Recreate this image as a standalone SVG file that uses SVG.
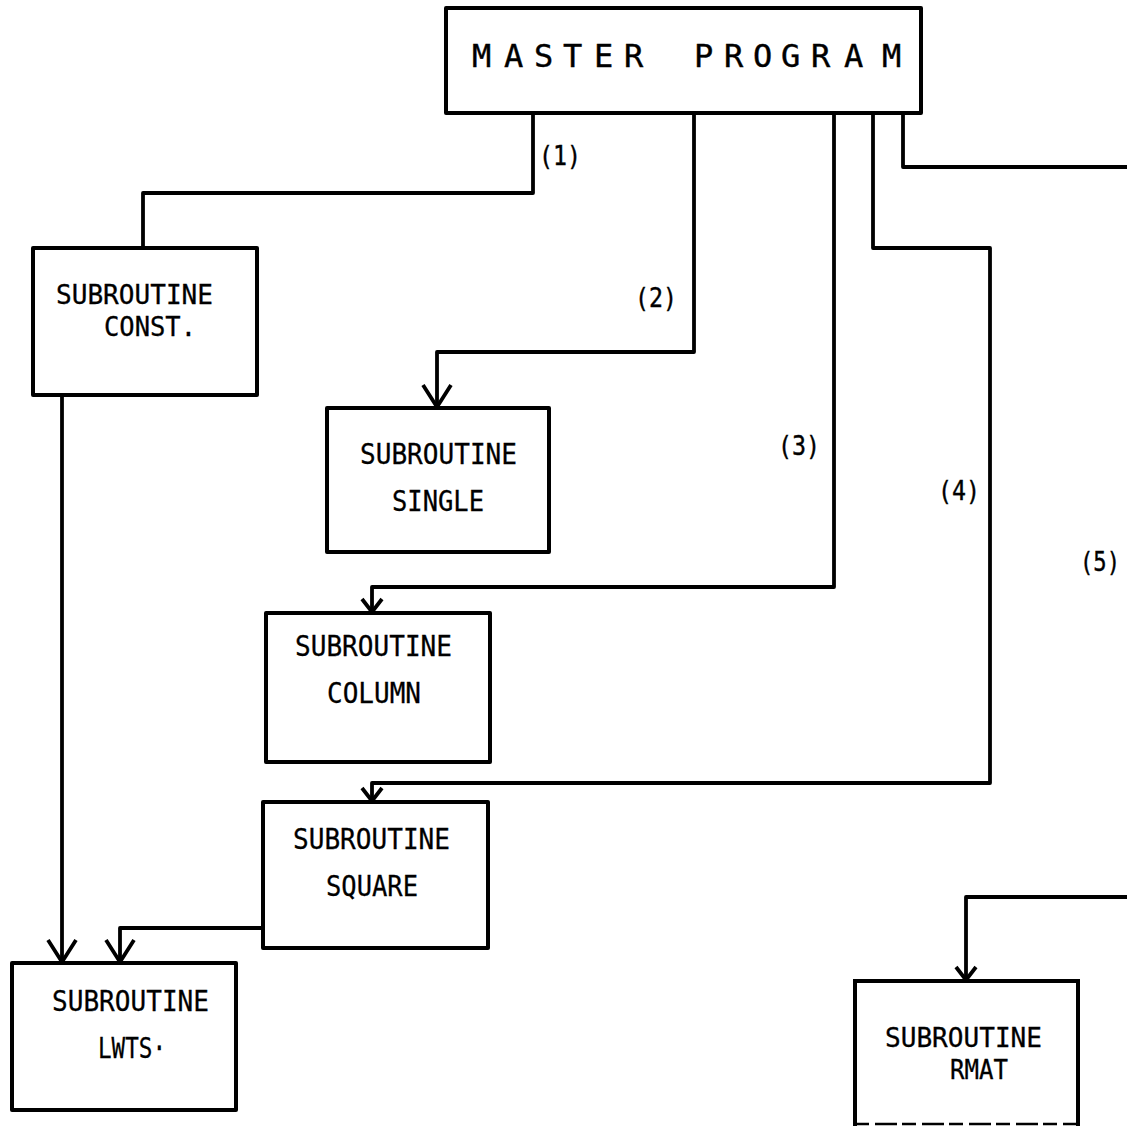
<svg xmlns="http://www.w3.org/2000/svg" width="1127" height="1126" viewBox="0 0 1127 1126">
<defs>
<style>
.box{fill:#fff;stroke:#000;stroke-width:4;stroke-linejoin:round}
.open{fill:none;stroke:#000;stroke-width:4}
.con{fill:none;stroke:#000;stroke-width:3.8;stroke-linejoin:round}
.t{font-family:"DejaVu Sans Mono","Liberation Mono",monospace;font-size:29px;fill:#000;stroke:#000;stroke-width:0.3}
.t2{font-family:"DejaVu Sans Mono","Liberation Mono",monospace;font-size:26px;fill:#000;stroke:#000;stroke-width:0.3}
.lbl{font-family:"DejaVu Sans Mono","Liberation Mono",monospace;font-size:27px;fill:#000;stroke:#000;stroke-width:0.4}
.m{font-family:"DejaVu Sans Mono","Liberation Mono",monospace;font-size:32px;fill:#000;stroke:#000;stroke-width:0.4}
</style>
<marker id="big" markerUnits="userSpaceOnUse" viewBox="-2 -2 28 32" markerWidth="28" markerHeight="32" refX="22" refY="14" orient="auto">
<path d="M0,0 L22,14 L0,28" fill="none" stroke="#000" stroke-width="3.8"/>
</marker>
<marker id="small" markerUnits="userSpaceOnUse" viewBox="-2 -2 18 26" markerWidth="18" markerHeight="26" refX="13" refY="10" orient="auto">
<path d="M0,0 L13,10 L0,20" fill="none" stroke="#000" stroke-width="3.8"/>
</marker>
</defs>
<rect width="1127" height="1126" fill="#fff"/>

<g id="connectors">
<path class="con" d="M533,113 L533,193 L143,193 L143,248"/>
<path class="con" d="M694,113 L694,352 L437,352 L437,407" marker-end="url(#big)"/>
<path class="con" d="M834,113 L834,587 L372,587 L372,612" marker-end="url(#small)"/>
<path class="con" d="M873,113 L873,248 L990,248 L990,783 L372,783 L372,801" marker-end="url(#small)"/>
<path class="con" d="M903,113 L903,167 L1127,167"/>
<path class="con" d="M1127,897 L966,897 L966,980" marker-end="url(#small)"/>
<path class="con" d="M62,395 L62,962" marker-end="url(#big)"/>
<path class="con" d="M263,928 L120,928 L120,962" marker-end="url(#big)"/>
<text class="lbl" x="539" y="165" textLength="42" lengthAdjust="spacingAndGlyphs">(1)</text>
<text class="lbl" x="635" y="307" textLength="42" lengthAdjust="spacingAndGlyphs">(2)</text>
<text class="lbl" x="778" y="455" textLength="42" lengthAdjust="spacingAndGlyphs">(3)</text>
<text class="lbl" x="938" y="500" textLength="42" lengthAdjust="spacingAndGlyphs">(4)</text>
<text class="lbl" x="1080" y="571" textLength="40" lengthAdjust="spacingAndGlyphs">(5)</text>
</g>

<g id="master">
<rect class="box" x="446" y="8" width="475" height="105"/>
<text class="m" x="472 504 534 563 594 624 660 694 724 753 781 811 844 882" y="67">MASTER PROGRAM</text>
</g>

<g id="const">
<rect class="box" x="33" y="248" width="224" height="147"/>
<text class="t2" x="56" y="304" textLength="157" lengthAdjust="spacingAndGlyphs">SUBROUTINE</text>
<text class="t2" x="104" y="336" textLength="92" lengthAdjust="spacingAndGlyphs">CONST.</text>
</g>

<g id="single">
<rect class="box" x="327" y="408" width="222" height="144"/>
<text class="t" x="360" y="464" textLength="157" lengthAdjust="spacingAndGlyphs">SUBROUTINE</text>
<text class="t" x="392" y="511" textLength="92" lengthAdjust="spacingAndGlyphs">SINGLE</text>
</g>

<g id="column">
<rect class="box" x="266" y="613" width="224" height="149"/>
<text class="t" x="295" y="656" textLength="157" lengthAdjust="spacingAndGlyphs">SUBROUTINE</text>
<text class="t" x="327" y="703" textLength="94" lengthAdjust="spacingAndGlyphs">COLUMN</text>
</g>

<g id="square">
<rect class="box" x="263" y="802" width="225" height="146"/>
<text class="t" x="293" y="849" textLength="157" lengthAdjust="spacingAndGlyphs">SUBROUTINE</text>
<text class="t" x="326" y="896" textLength="92" lengthAdjust="spacingAndGlyphs">SQUARE</text>
</g>

<g id="lwts">
<rect class="box" x="12" y="963" width="224" height="147"/>
<text class="t" x="52" y="1011" textLength="157" lengthAdjust="spacingAndGlyphs">SUBROUTINE</text>
<text class="t" x="98" y="1058" textLength="68" lengthAdjust="spacingAndGlyphs">LWTS·</text>
</g>

<g id="rmat">
<path class="open" d="M855,1126 L855,981 L1078,981 L1078,1126"/>
<path d="M855,1124 L1078,1124" fill="none" stroke="#000" stroke-width="2.5" stroke-dasharray="14 6 22 5"/>
<text class="t2" x="885" y="1047" textLength="157" lengthAdjust="spacingAndGlyphs">SUBROUTINE</text>
<text class="t2" x="950" y="1079" textLength="58" lengthAdjust="spacingAndGlyphs">RMAT</text>
</g>
</svg>
